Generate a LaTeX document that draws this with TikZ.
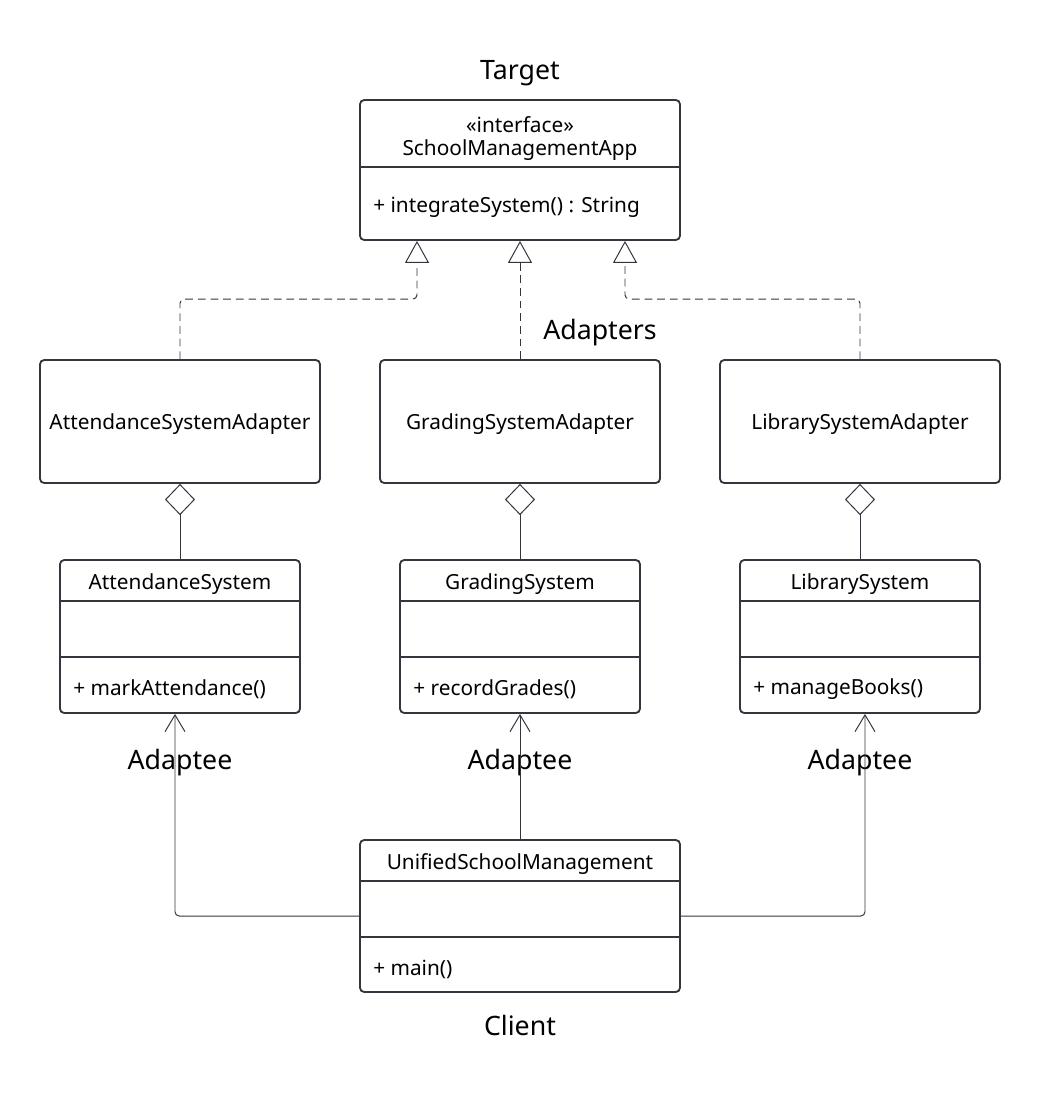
\documentclass[tikz,border=0pt]{standalone}
\usepackage{fontspec}
\setmainfont{Noto Sans}
\usetikzlibrary{arrows.meta}
\definecolor{umlline}{HTML}{33363D}

\begin{document}
\begin{tikzpicture}[
  font=\fontsize{14.8}{18}\selectfont,
  box/.style={rectangle, draw=umlline, line width=1.3pt, rounded corners=3pt, inner sep=0pt},
  cls/.style={box, minimum width=6cm, minimum height=3.825cm},
  adp/.style={box, minimum width=7cm, minimum height=3.075cm, text height=15pt, text depth=3.5pt},
  big/.style={box, minimum width=8cm},
  txt/.style={yshift=-2pt},
  role/.style={txt, font=\fontsize{19}{22}\selectfont},
  sep/.style={draw=umlline, line width=1.3pt},
  meth/.style={txt, anchor=west, inner sep=0pt},
  impl/.style={draw=umlline, line width=0.7pt, dash pattern=on 5.5pt off 3.5pt,
               rounded corners=3pt, -{Triangle[open, length=0.55cm, width=0.6cm]}},
  aggr/.style={draw=umlline, line width=0.7pt, {Diamond[open, length=0.78cm, width=0.75cm]}-},
  assoc/.style={draw=umlline, line width=0.7pt, rounded corners=3pt,
                -{Straight Barb[length=0.42cm, width=0.5cm]}}
]
\fill[white] (0,0) rectangle (26,-27.325);
\node[role] (tgtlbl) at (13,-1.75) {Target};
\node[big, minimum height=3.5cm] (app) at (13,-4.25) {};
\node[txt] (appst) at (13,-3.05) {«interface»};
\node[txt] (appnm) at (13,-3.675) {SchoolManagementApp};
\draw[sep] (app.west |- 0,-4.175) -- (app.east |- 0,-4.175);
\node[meth] (appm) at (9.325,-5.125) {+ integrateSystem() : String};
\coordinate (appL) at ([xshift=-2.575cm]app.south);
\coordinate (appR) at ([xshift=2.625cm]app.south);

\node[role] (adplbl) at (15,-8.25) {Adapters};
\node[adp] (atta) at (4.5,-10.5375)  {AttendanceSystemAdapter};
\node[adp] (gra)  at (13,-10.5375)   {GradingSystemAdapter};
\node[adp] (liba) at (21.5,-10.5375) {LibrarySystemAdapter};

\node[cls] (att) at (4.5,-15.9125) {};
\node[txt] (attn) at (4.5,-14.525) {AttendanceSystem};
\draw[sep] (att.west |- 0,-15.025) -- (att.east |- 0,-15.025);
\draw[sep] (att.west |- 0,-16.425) -- (att.east |- 0,-16.425);
\node[meth] (attm) at (1.825,-17.15) {+ markAttendance()};

\node[cls] (grs) at (13,-15.9125) {};
\node[txt] (grsn) at (13,-14.525) {GradingSystem};
\draw[sep] (grs.west |- 0,-15.025) -- (grs.east |- 0,-15.025);
\draw[sep] (grs.west |- 0,-16.425) -- (grs.east |- 0,-16.425);
\node[meth] (grsm) at (10.325,-17.15) {+ recordGrades()};

\node[cls] (lib) at (21.5,-15.9125) {};
\node[txt] (libn) at (21.5,-14.525) {LibrarySystem};
\draw[sep] (lib.west |- 0,-15.025) -- (lib.east |- 0,-15.025);
\draw[sep] (lib.west |- 0,-16.425) -- (lib.east |- 0,-16.425);
\node[meth] (libm) at (18.825,-17.15) {+ manageBooks()};

\node[role] (attlbl) at (4.5,-19)  {Adaptee};
\node[role] (grslbl) at (13,-19)   {Adaptee};
\node[role] (liblbl) at (21.5,-19) {Adaptee};

\node[big, minimum height=3.8cm] (cli) at (13,-22.9) {};
\node[txt] (clin) at (13,-21.525) {UnifiedSchoolManagement};
\draw[sep] (cli.west |- 0,-22.025) -- (cli.east |- 0,-22.025);
\draw[sep] (cli.west |- 0,-23.425) -- (cli.east |- 0,-23.425);
\node[meth] (clim) at (9.325,-24.175) {+ main()};
\node[role] (clilbl) at (13,-25.575) {Client};
\coordinate (attB) at ([xshift=-0.125cm]att.south);
\coordinate (libB) at ([xshift=0.125cm]lib.south);

\draw[impl] (atta.north) -- ++(0,1.5) -| (appL);
\draw[impl] (gra.north) -- (app.south);
\draw[impl] (liba.north) -- ++(0,1.5) -| (appR);
\draw[aggr] (atta.south) -- (att.north);
\draw[aggr] (gra.south) -- (grs.north);
\draw[aggr] (liba.south) -- (lib.north);
\draw[assoc] (cli.west) -| (attB);
\draw[assoc] (cli.north) -- (grs.south);
\draw[assoc] (cli.east) -| (libB);
\end{tikzpicture}
\end{document}
